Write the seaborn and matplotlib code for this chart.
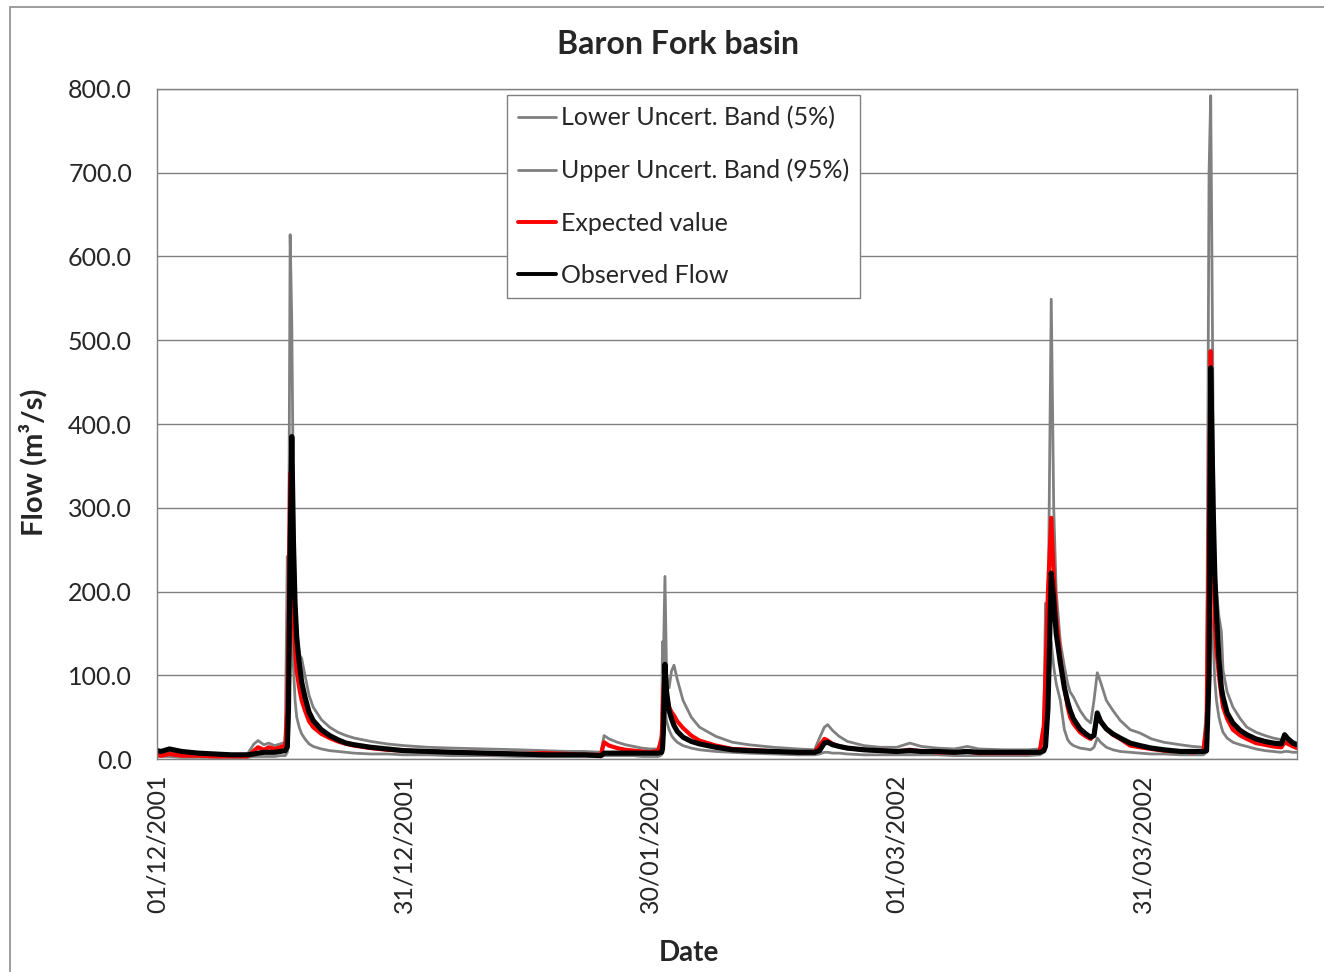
import matplotlib
matplotlib.use("Agg")
import matplotlib.pyplot as plt
from matplotlib.patches import Rectangle
from matplotlib.lines import Line2D
import pandas as pd
import seaborn as sns

# Time stamps, in days after 01/12/2001 00:00
days = [
    0.0, 0.5, 1.5, 3.0, 5.0, 7.0, 9.0, 11.0, 11.8, 12.3, 13.0, 13.6, 14.3, 15.0, 15.6,
    15.85, 16.0, 16.2, 16.4, 16.6, 16.8, 17.0, 17.3, 17.6, 18.0, 18.5, 19.0, 20.0, 21.0, 22.0,
    23.0, 24.0, 26.0, 28.0, 30.0, 33.0, 36.0, 40.0, 44.0, 47.0, 50.0, 52.0, 54.0, 54.4,
    55.0, 56.0, 57.0, 58.0, 59.0, 60.0, 61.0, 61.4, 61.5, 61.6, 61.8, 62.0, 62.3, 62.6, 62.9,
    63.3, 64.0, 65.0, 66.0, 68.0, 70.0, 72.0, 75.0, 78.0, 80.0, 80.6, 81.2, 81.6, 82.2,
    83.0, 84.0, 86.0, 88.0, 90.0, 91.6, 93.0, 95.0, 97.0, 98.6, 100.0, 103.0, 106.0,
    107.4, 107.9, 108.1, 108.4, 108.8, 109.1, 109.4, 109.9, 110.4, 110.8, 111.1, 111.5, 112.3,
    113.0, 113.6, 114.0, 114.4, 114.8, 115.5, 116.3, 117.2, 118.4, 119.6, 121.0, 122.5,
    124.5, 126.0, 127.3, 127.7, 128.0, 128.2, 128.5, 128.7, 128.9, 129.2, 129.5, 129.7,
    130.2, 130.9, 131.8, 132.6, 133.7, 134.8, 135.8, 136.8, 137.2, 137.6, 138.2, 138.7,
]

observed_flow = [
    10, 9, 12, 9, 7, 6, 5, 5, 6, 7, 8, 8, 8, 9, 10,
    14, 60, 250, 385, 260, 185, 145, 115, 92, 74, 56, 46, 35, 28, 23,
    19, 17, 14, 12, 10, 9, 8, 7, 6, 5, 5, 5, 4, 7,
    7, 7, 7, 7, 7, 7, 7, 8, 12, 30, 113, 80, 58, 48, 40,
    33, 26, 21, 18, 14, 11, 10, 9, 8, 8, 10, 19, 20, 17,
    15, 13, 11, 10, 9, 10, 9, 9, 8, 9, 8, 8, 8,
    8, 10, 15, 60, 222, 190, 150, 115, 85, 68, 58, 48, 36,
    30, 26, 28, 55, 45, 36, 30, 25, 19, 16, 13, 11,
    9, 9, 9, 10, 100, 467, 300, 220, 174, 120, 85, 74,
    55, 43, 34, 29, 24, 21, 19, 18, 29, 24, 19, 17,
]

expected_value = [
    5, 4, 6, 4, 4, 3, 3, 3, 10, 14, 11, 14, 12, 14, 16,
    60, 150, 341, 260, 180, 130, 105, 85, 70, 58, 45, 38, 30, 25, 21,
    18, 16, 13, 11, 10, 9, 8, 7, 6, 7, 6, 5, 5, 20,
    16, 13, 11, 10, 9, 8, 10, 25, 50, 80, 108, 75, 62, 56, 52,
    45, 37, 28, 22, 16, 12, 11, 9, 8, 8, 16, 24, 22, 18,
    15, 13, 11, 10, 9, 11, 9, 8, 8, 9, 7, 7, 7,
    9, 40, 100, 200, 288, 220, 170, 120, 85, 62, 50, 42, 32,
    27, 24, 30, 53, 46, 36, 29, 24, 16, 14, 12, 10,
    9, 8, 9, 40, 300, 487, 250, 160, 130, 100, 76, 62,
    48, 35, 28, 24, 19, 17, 15, 14, 20, 18, 15, 13,
]

upper_band_95 = [
    8, 8, 9, 7, 6, 5, 5, 6, 18, 22, 17, 19, 16, 18, 20,
    242, 180, 626, 520, 300, 200, 160, 125, 120, 100, 76, 62, 47, 38, 32,
    28, 25, 21, 18, 16, 14, 13, 12, 11, 10, 9, 9, 8, 28,
    24, 20, 17, 15, 13, 12, 12, 30, 140, 110, 218, 100, 85, 105, 112,
    95, 70, 50, 38, 27, 20, 17, 14, 12, 11, 25, 38, 41, 34,
    27, 21, 16, 14, 14, 19, 15, 13, 12, 15, 12, 11, 11,
    12, 40, 186, 150, 549, 300, 200, 140, 110, 90, 80, 74, 58,
    48, 43, 70, 103, 92, 70, 58, 46, 35, 31, 24, 20,
    17, 15, 14, 60, 700, 792, 400, 226, 200, 170, 152, 106,
    80, 62, 48, 38, 32, 28, 25, 23, 28, 26, 21, 19,
]

lower_band_5 = [
    3, 3, 3, 2, 2, 2, 2, 2, 3, 3, 3, 3, 3, 4, 4,
    8, 20, 120, 180, 110, 70, 50, 38, 30, 24, 18, 15, 12, 10, 9,
    8, 7, 6, 6, 5, 5, 4, 4, 3, 3, 3, 3, 3, 4,
    4, 4, 4, 4, 3, 3, 3, 5, 10, 30, 60, 45, 35, 28, 24,
    20, 16, 13, 11, 9, 8, 7, 6, 5, 5, 6, 8, 8, 7,
    7, 6, 5, 5, 5, 5, 5, 5, 4, 4, 4, 4, 4,
    5, 8, 20, 60, 140, 110, 90, 70, 35, 23, 19, 16, 13,
    12, 11, 14, 25, 20, 14, 11, 9, 8, 7, 6, 6,
    5, 5, 5, 8, 70, 180, 140, 94, 70, 50, 38, 32,
    25, 20, 17, 15, 12, 10, 9, 8, 9, 9, 8, 8,
]

tick_labels = ["01/12/2001", "31/12/2001", "30/01/2002", "01/03/2002", "31/03/2002"]
y_ticks = [0, 100, 200, 300, 400, 500, 600, 700, 800]

start = pd.Timestamp("2001-12-01")
df = pd.DataFrame({
    "Date": start + pd.to_timedelta(days, unit="D"),
    "Lower Uncert. Band (5%)": lower_band_5,
    "Upper Uncert. Band (95%)": upper_band_95,
    "Expected value": expected_value,
    "Observed Flow": observed_flow,
})

sns.set_theme(style="white")
plt.rcParams["font.family"] = ["Lato", "DejaVu Sans"]

GRAY = "#808080"
fig = plt.figure(figsize=(13.24, 9.72), dpi=100)
ax = fig.add_axes([157 / 1324, 1 - 759 / 972, (1297 - 157) / 1324, (759 - 89) / 972])

styles = [
    ("Upper Uncert. Band (95%)", GRAY, 2.0),
    ("Lower Uncert. Band (5%)", GRAY, 2.0),
    ("Expected value", "#ff0000", 3.0),
    ("Observed Flow", "#000000", 3.7),
]
for col, color, lw in styles:
    sns.lineplot(data=df, x="Date", y=col, color=color, linewidth=lw,
                 ax=ax, legend=False)

ax.set_ylim(0, 800)
ax.set_xlim(df["Date"].iloc[0], df["Date"].iloc[-1])
ax.set_yticks(y_ticks)
ax.set_yticklabels([f"{v:.1f}" for v in y_ticks])
ax.set_xticks(pd.to_datetime(tick_labels, dayfirst=True))
ax.set_xticklabels(tick_labels, rotation=90)
ax.tick_params(axis="y", length=0, pad=18, labelsize=18)
ax.tick_params(axis="x", length=0, pad=11, labelsize=18)
ax.set_xlabel("")
ax.set_ylabel("")

ax.grid(axis="y", color=GRAY, linewidth=1.0)
ax.grid(axis="x", visible=False)
ax.set_axisbelow(True)
for sp in ax.spines.values():
    sp.set_color(GRAY)
    sp.set_linewidth(1.0)

order = ["Lower Uncert. Band (5%)", "Upper Uncert. Band (95%)", "Expected value", "Observed Flow"]
leg_handles = [
    Line2D([], [], color=GRAY, linewidth=2.0),
    Line2D([], [], color=GRAY, linewidth=2.0),
    Line2D([], [], color="#ff0000", linewidth=2.8),
    Line2D([], [], color="#000000", linewidth=2.8),
]
leg = fig.legend(leg_handles, order, loc="upper left",
                 bbox_to_anchor=(507 / 1324, 1 - 95 / 972),
                 frameon=True, fancybox=False, framealpha=1, edgecolor=GRAY,
                 fontsize=18.0, handlelength=1.5, handletextpad=0.2,
                 labelspacing=1.17, borderpad=0.45, borderaxespad=0)
leg.get_frame().set_linewidth(1.0)

fig.text(678 / 1324, 1 - 44 / 972, "Baron Fork basin", ha="center", va="center",
         fontsize=23, fontweight="bold")
fig.text(689 / 1324, 1 - 953 / 972, "Date", ha="center", va="center",
         fontsize=20, fontweight="bold")
fig.text(33 / 1324, 1 - 462 / 972, "Flow (m³/s)", ha="center", va="center",
         rotation=90, fontsize=21, fontweight="bold")

# Chart-area border
fig.add_artist(Rectangle((10 / 1324, -0.05), 1.2, 1 - 7 / 972 + 0.05,
                         transform=fig.transFigure, fill=False,
                         edgecolor="#8c8c8c", linewidth=1.2, clip_on=False))

fig.savefig("out.png", dpi=100)
